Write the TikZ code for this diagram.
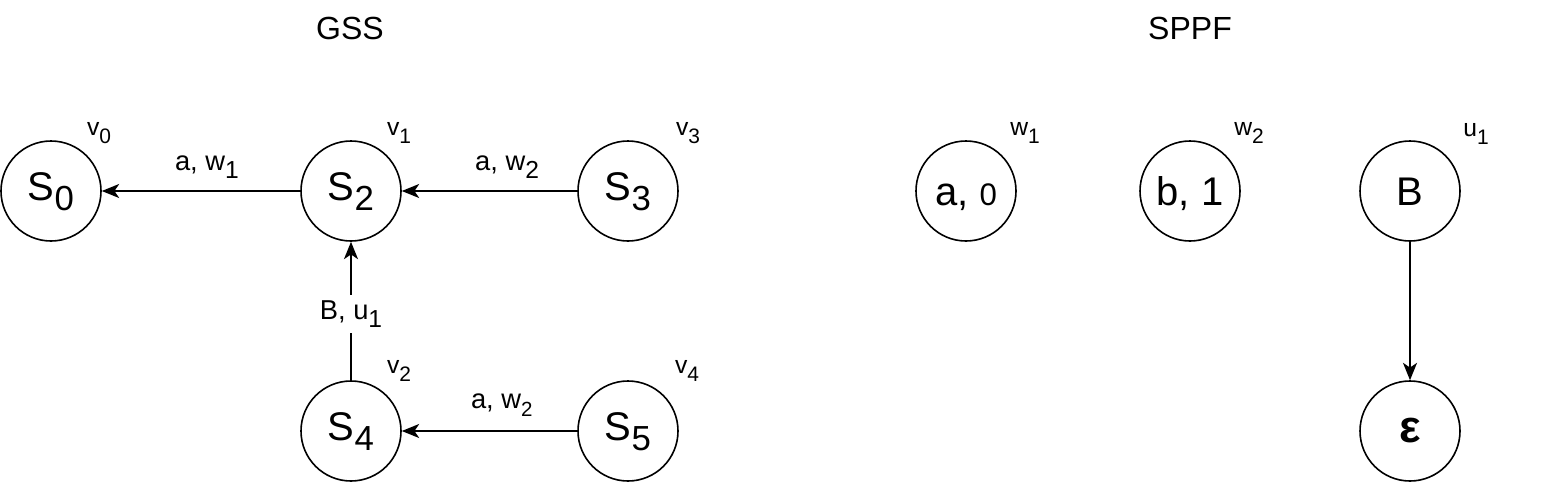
\documentclass[tikz,border=0pt]{standalone}
\usepackage{fontspec}
\setmainfont{Liberation Sans}
\usetikzlibrary{arrows.meta,calc}
\newcommand\dsub[3][0.25em]{\raisebox{-#1}{\scalebox{#2}{#3}}}
\begin{document}
\begin{tikzpicture}[x=0.75pt,y=-0.75pt,
  circ/.style={circle, draw, line width=1.2pt, minimum size=75pt, inner sep=0pt,
    font=\fontsize{30}{36}\selectfont},
  sst/.style={circ, text height=13.5pt, text depth=0pt},
  pst/.style={circ, text height=21.5pt, text depth=0pt},
  conn/.style={line width=1.2pt, -{Stealth[length=13pt,width=10.5pt,inset=3.5pt]}},
  elab/.style={font=\fontsize{20.5}{24}\selectfont, anchor=base, inner sep=0pt},
  vlab/.style={font=\fontsize{18.5}{22}\selectfont, anchor=base, inner sep=0pt},
  ttl/.style={font=\fontsize{24}{28}\selectfont, anchor=base, inner sep=0pt}]
\useasboundingbox (0,0) rectangle (1542,482);
% titles
\node[ttl] (gss) at (350,39) {GSS};
\node[ttl] (sppf) at (1190,39) {SPPF};
% GSS nodes
\node[sst] (s0) at (51,191) {S\dsub{0.87}{0}};
\node[sst] (s2) at (351,191) {S\dsub{0.87}{2}};
\node[sst] (s3) at (628,191) {S\dsub{0.87}{3}};
\node[sst] (s4) at (351,431) {S\dsub{0.87}{4}};
\node[sst] (s5) at (628,431) {S\dsub{0.87}{5}};
% SPPF nodes
\node[pst] (a0) at (966,191) {a, \scalebox{0.78}{0}};
\node[pst] (b1) at (1190,191) {b, 1};
\node[pst] (bB) at (1410,191) {B};
\node[circ] (eps) at (1410,431) {\fontsize{34}{40}\selectfont\bfseries ε};
% vertex labels
\node[vlab] (v0) at ($(s0)+(48,-56)$) {v\dsub[0.35em]{0.85}{0}};
\node[vlab] (v1) at ($(s2)+(48,-56)$) {v\dsub[0.35em]{0.85}{1}};
\node[vlab] (v3) at ($(s3)+(60,-56)$) {v\dsub[0.35em]{0.85}{3}};
\node[vlab] (v2) at ($(s4)+(48,-58)$) {v\dsub[0.35em]{0.85}{2}};
\node[vlab] (v4) at ($(s5)+(59,-58)$) {v\dsub[0.35em]{0.85}{4}};
\node[vlab] (w1) at ($(a0)+(59,-56)$) {w\dsub[0.35em]{0.85}{1}};
\node[vlab] (w2) at ($(b1)+(59,-56)$) {w\dsub[0.35em]{0.85}{2}};
\node[vlab] (u1) at ($(bB)+(66,-55)$) {u\dsub[0.35em]{0.85}{1}};
% edges
\draw[conn] (s2) -- node[elab, pos=0.47, yshift=15.75pt] (l1) {a, w\dsub[0.3em]{0.9}{1}} (s0);
\draw[conn] (s3) -- node[elab, pos=0.4, yshift=15.75pt] (l2) {a, w\dsub[0.3em]{0.9}{2}} (s2);
\draw[conn] (s5) -- node[elab, pos=0.43, yshift=17.25pt] (l3) {a, w\dsub[0.3em]{0.75}{2}} (s4);
\draw[conn] (s4) -- node[elab, fill=white, inner xsep=2pt, inner ysep=4pt, yshift=-6pt] (l4) {B, u\dsub[0.3em]{0.9}{1}} (s2);
\draw[conn] (bB) -- (eps);
\end{tikzpicture}
\end{document}
